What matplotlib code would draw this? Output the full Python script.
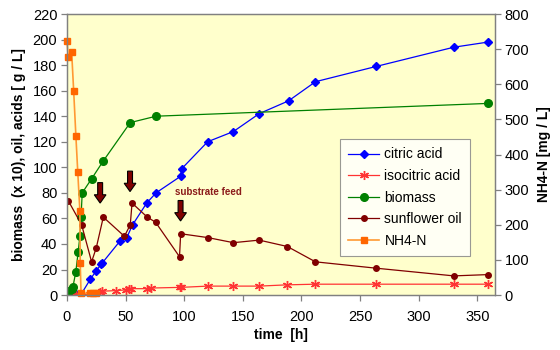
import matplotlib.pyplot as plt

plt.rcParams['font.family'] = ['Liberation Sans', 'DejaVu Sans']

# citric acid [g/L]
t_cit = [0, 4, 8, 12, 20, 25, 29, 30, 45, 51, 56, 68, 76, 97, 98, 120, 142, 164, 189, 212, 264, 330, 359]
cit = [0.5, 0.5, 0.5, 0.5, 12.5, 19, 24, 25, 42, 45, 55, 72, 80, 93, 99, 120, 128, 142, 152, 167, 179, 194, 198]

# isocitric acid [g/L]
t_iso = [0, 4, 8, 12, 20, 24, 28, 30, 42, 50, 53, 55, 68, 72, 96, 97, 120, 142, 164, 188, 212, 264, 330, 359]
iso = [0, 0, 0, 0, 0.5, 1, 2, 3, 3.5, 4, 4.5, 5, 5, 5.5, 6, 6, 7, 7, 7, 8, 8.5, 8.5, 8.5, 8.5]

# biomass (x 10) [g/L]
t_bio = [0, 2, 4, 5, 7.5, 9.6, 11, 12, 13, 21, 31, 54, 76, 359]
bio = [2, 3, 5, 6, 18, 34, 46, 61, 80, 91, 105, 135, 140, 150]

# sunflower oil [g/L]
t_oil = [1, 12.5, 21, 25, 31, 49, 54, 55.5, 68.5, 75.6, 96, 97, 120, 142, 164, 188, 212, 264, 330, 359]
oil = [74, 55, 26, 37, 61, 46, 55, 72, 61, 57, 30, 48, 45, 41, 43, 38, 26, 21, 15, 16]

# NH4-N [mg/L]
t_nh4 = [0, 1, 4, 5.7, 7.6, 9.2, 11, 11.3, 12, 20, 22, 25]
nh4 = [723, 679, 691, 582, 453, 350, 240, 92, 5, 5, 5, 5]

# substrate feed arrows: (time, top, tip)
feeds = [(28.3, 88, 72), (53.8, 97, 81), (96.9, 74, 58)]

fig = plt.figure(figsize=(5.6, 3.5), dpi=100)
ax = fig.add_axes([0.1196, 0.157, 0.764, 0.803])
ax.set_facecolor('#FFFFCC')
ax2 = ax.twinx()

l1, = ax.plot(t_cit, cit, color='#0000FF', lw=0.9, marker='D', ms=4.5, label='citric acid')
l2, = ax.plot(t_iso, iso, color='#FF3333', lw=0.9, marker=(6, 2, 0), ms=6.5, mew=1, label='isocitric acid')
l3, = ax.plot(t_bio, bio, color='#008000', lw=0.9, marker='o', ms=5.5, label='biomass')
l4, = ax.plot(t_oil, oil, color='#800000', lw=0.9, marker='o', ms=4, label='sunflower oil')
l5, = ax2.plot(t_nh4, nh4, color='#FF9933', lw=1.2, marker='s', ms=4.5, mfc='#FF6600', mec='#FF6600',
               label='NH4-N', clip_on=False)

for t, top, tip in feeds:
    ax.arrow(t, top, 0, tip - top, width=4.2, head_width=10, head_length=6.5,
             length_includes_head=True, fc='#800000', ec='black', lw=0.8, zorder=5)
ax.text(92, 81, 'substrate feed', color='#8B1A1A', fontsize=7, fontweight='bold',
        va='center', ha='left', family=['Liberation Sans Narrow', 'Liberation Sans'])

ax.set_xlim(0, 365)
ax.set_ylim(0, 220)
ax2.set_ylim(0, 800)
ax.set_xticks(range(0, 351, 50))
ax.set_yticks(range(0, 221, 20))
ax2.set_yticks(range(0, 801, 100))

for a in (ax, ax2):
    for s in a.spines.values():
        s.set_color('#808080')
        s.set_linewidth(0.9)
    a.tick_params(labelsize=10.5, color='#808080', length=4, width=0.9, pad=3)
ax.tick_params(axis='x', pad=7)

ax.set_xlabel('time  [h]', fontsize=10, fontweight='bold', labelpad=3)
ax.set_ylabel('biomass  (x 10), oil, acids [ g / L]', fontsize=10, fontweight='bold', labelpad=5)
ax2.set_ylabel('NH4-N [mg / L]', fontsize=10, fontweight='bold', rotation=90, labelpad=6)

leg = ax2.legend(handles=[l1, l2, l3, l4, l5], loc='upper left', bbox_to_anchor=(0.638, 0.555),
                 fontsize=10, frameon=True, fancybox=False, edgecolor='#808080', borderaxespad=0,
                 handlelength=2.2, labelspacing=0.55, borderpad=0.6, handletextpad=0.4)
leg.get_frame().set_linewidth(0.8)

fig.savefig('out.png', dpi=100)
